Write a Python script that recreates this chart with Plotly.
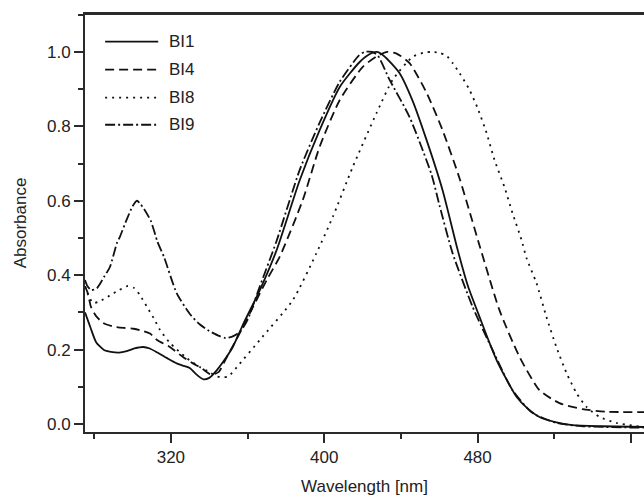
import plotly.graph_objects as go

# ---- data ----
series_names = ["BI1", "BI4", "BI8", "BI9"]

bi1_nm = [275.2, 278, 281, 285.1, 288.7, 293, 297, 301, 305.5, 309, 313, 318, 323, 326.8, 330, 332,
          334.5, 337, 340, 344, 349, 352.3, 357.5, 366.4, 375.2, 387.2, 397.6, 408.1, 418.5, 424, 427.3,
          431, 439.3, 446, 453.4, 461.7, 469.6, 475, 481, 489.9, 500.3, 506, 512.3, 520, 529.5, 545, 566.8]
bi1_abs = [0.30, 0.26, 0.22, 0.199, 0.194, 0.192, 0.196, 0.203, 0.207, 0.203, 0.192, 0.177, 0.163, 0.156, 0.150, 0.140,
           0.128, 0.120, 0.124, 0.145, 0.18, 0.207, 0.266, 0.36, 0.468, 0.655, 0.79, 0.906, 0.973, 0.995, 1.0,
           0.99, 0.943, 0.87, 0.763, 0.629, 0.468, 0.37, 0.288, 0.172, 0.073, 0.042, 0.019, 0.006, -0.003, -0.006, -0.008]

bi4_nm = [275.2, 276.7, 278.3, 281, 284.6, 290, 296, 300.5, 304, 309.1, 313, 319.5, 326.3, 331.5, 336, 340, 342,
          345, 349.2, 356, 370, 376.8, 388.8, 397.6, 408.1, 420.1, 428, 433, 438, 444.5, 453.4, 461.7, 470.6,
          481, 491.4, 501.9, 512.3, 522.7, 534.7, 547, 566.8]
bi4_abs = [0.37, 0.351, 0.315, 0.29, 0.272, 0.262, 0.258, 0.256, 0.252, 0.243, 0.225, 0.207, 0.180, 0.163, 0.150, 0.135, 0.133,
           0.140, 0.18, 0.245, 0.387, 0.45, 0.602, 0.745, 0.871, 0.96, 0.99, 1.0, 0.995, 0.97, 0.89, 0.79, 0.66,
           0.48, 0.306, 0.18, 0.091, 0.056, 0.040, 0.033, 0.032]

bi8_nm = [275.2, 277, 279.4, 283, 288, 293, 297.6, 301, 304, 307.5, 311, 314.3, 319.5, 328.3, 335.1, 340, 344, 347,
          350, 354.4, 366.4, 383.6, 396, 404.4, 414.8, 427.3, 435.7, 446.1, 452, 456, 460, 463.8, 467, 470.6,
          475.8, 480, 484.7, 488.8, 494, 498.2, 502.9, 505.5, 510.7, 515.9, 521.1, 526.4, 531.6, 536.8, 543.6,
          552.4, 566.8]
bi8_abs = [0.37, 0.345, 0.325, 0.33, 0.345, 0.36, 0.371, 0.365, 0.345, 0.315, 0.285, 0.253, 0.218, 0.177, 0.153, 0.14, 0.128, 0.126,
           0.128, 0.153, 0.226, 0.333, 0.46, 0.556, 0.69, 0.836, 0.925, 0.987, 0.998, 1.0, 0.998, 0.99, 0.97, 0.943,
           0.898, 0.849, 0.782, 0.71, 0.637, 0.567, 0.495, 0.446, 0.379, 0.288, 0.207, 0.137, 0.083, 0.046, 0.019,
           0.003, -0.008]

bi9_nm = [275.2, 276.5, 278.5, 281.4, 284, 285.1, 288.2, 291.9, 293.4, 297, 300, 302.3, 304, 306, 309.6, 313, 316.4, 323,
          330, 335, 340, 345.5, 348.5, 352, 356, 360, 366.4, 375, 387.2, 397.6, 408.1, 418, 421, 425, 428, 434.1,
          444.5, 456, 460, 466.9, 477.4, 487.8, 498.2, 508.6, 521, 535, 566.8]
bi9_abs = [0.387, 0.37, 0.36, 0.365, 0.385, 0.395, 0.422, 0.487, 0.503, 0.55, 0.585, 0.6, 0.592, 0.578, 0.545, 0.49, 0.449, 0.352,
           0.295, 0.268, 0.25, 0.236, 0.231, 0.235, 0.247, 0.28, 0.37, 0.49, 0.683, 0.81, 0.92, 0.99, 1.0, 1.0, 0.99, 0.925,
           0.825, 0.67, 0.59, 0.46, 0.315, 0.199, 0.091, 0.03, 0.003, -0.006, -0.01]

x_range = [275.2, 566.8]
y_range = [-0.0215, 1.102]

# ---- figure ----
FONT = "Liberation Sans, Arial, Helvetica, sans-serif"
INK = "#111111"
AX = "#2a2a2a"
dashes = ["solid", "9px,5px", "2px,5px", "10px,3px,2px,3px"]
xs = [bi1_nm, bi4_nm, bi8_nm, bi9_nm]
ys = [bi1_abs, bi4_abs, bi8_abs, bi9_abs]

fig = go.Figure()
for name, x, y, d in zip(series_names, xs, ys, dashes):
    fig.add_trace(go.Scatter(x=x, y=y, mode="lines", name=name, showlegend=False,
                             line=dict(color=INK, width=1.8, dash=d, shape="spline", smoothing=0.6)))

# custom legend (paper coords)
leg_y = [0.934, 0.867, 0.800, 0.735]
for name, d, ly in zip(series_names, dashes, leg_y):
    fig.add_shape(type="line", xref="paper", yref="paper", x0=0.036, x1=0.131, y0=ly, y1=ly,
                  line=dict(color=INK, width=1.8, dash=d))
    fig.add_annotation(xref="paper", yref="paper", x=0.146, y=ly, text=name, showarrow=False,
                       xanchor="left", yanchor="middle", font=dict(family=FONT, size=17, color="#222"))

# top frame line
fig.add_shape(type="line", xref="paper", yref="paper", x0=-0.002, x1=1.0, y0=1.0, y1=1.0,
              line=dict(color=AX, width=2.2), layer="above")

axis_common = dict(showline=True, linecolor=AX, linewidth=2, ticks="outside", tickcolor=AX, tickwidth=1.5,
                   ticklen=9, showgrid=False, zeroline=False,
                   tickfont=dict(family=FONT, size=17, color="#222"))

fig.update_xaxes(range=x_range, tick0=0, dtick=80, mirror=True,
                 minor=dict(dtick=40, tick0=0, ticks="outside", ticklen=5, tickcolor=AX, tickwidth=1.5),
                 title=dict(text="Wavelength [nm]", font=dict(family=FONT, size=17, color="#222"), standoff=14),
                 **axis_common)
fig.update_yaxes(range=y_range, tick0=0, dtick=0.2, tickformat=".1f", mirror=False,
                 minor=dict(dtick=0.1, tick0=0, ticks="outside", ticklen=5, tickcolor=AX, tickwidth=1.5),
                 title=dict(text="Absorbance", font=dict(family=FONT, size=17, color="#222"), standoff=16),
                 **axis_common)

fig.update_layout(width=644, height=500, margin=dict(l=85, r=0, t=14, b=68),
                  paper_bgcolor="white", plot_bgcolor="white", showlegend=False,
                  font=dict(family=FONT, color="#222"))

fig.write_html("out.html", config={"displayModeBar": False})
